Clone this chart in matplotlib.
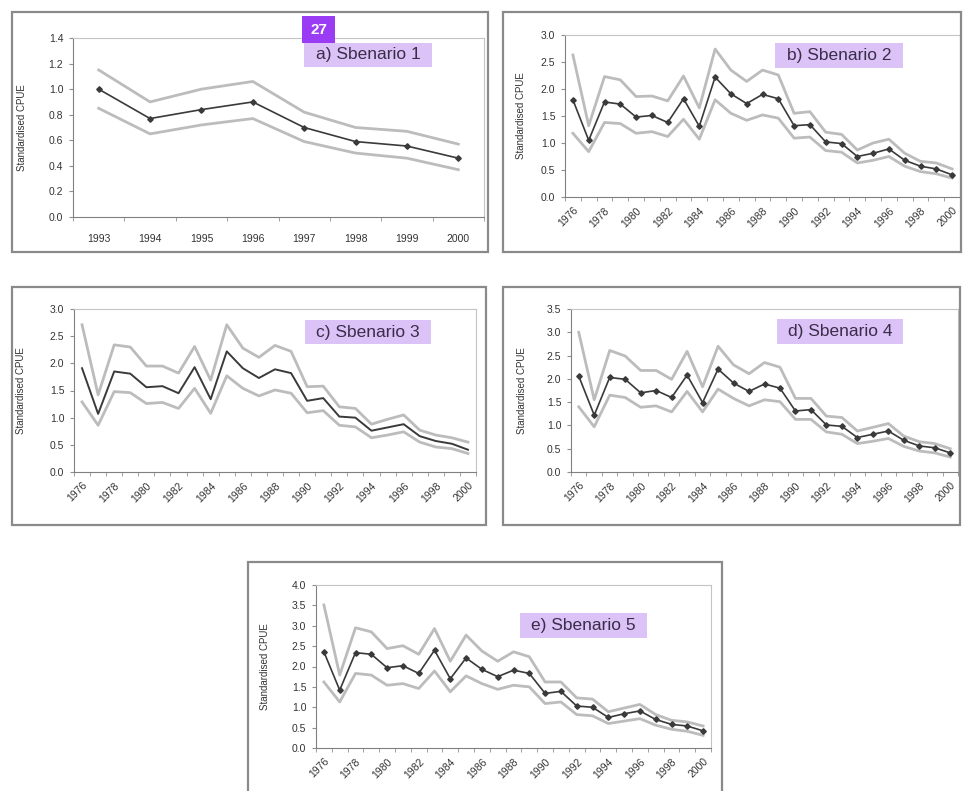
import numpy as np
import matplotlib.pyplot as plt
from matplotlib.patches import Rectangle

# Datos
years_a = ['1993', '1994', '1995', '1996', '1997', '1998', '1999', '2000']
mid_a = [1.00, 0.77, 0.84, 0.90, 0.70, 0.59, 0.555, 0.46]
up_a = [1.15, 0.90, 1.00, 1.06, 0.82, 0.70, 0.67, 0.57]
lo_a = [0.85, 0.65, 0.72, 0.77, 0.59, 0.50, 0.46, 0.37]

years_long = [str(y) for y in range(1976, 2001)]

mid_b = [1.80, 1.05, 1.76, 1.72, 1.48, 1.51, 1.38, 1.82, 1.31, 2.22, 1.91, 1.73, 1.90,
         1.82, 1.32, 1.34, 1.02, 0.99, 0.75, 0.81, 0.89, 0.68, 0.57, 0.52, 0.41]
up_b = [2.63, 1.32, 2.23, 2.17, 1.86, 1.87, 1.78, 2.24, 1.65, 2.74, 2.35, 2.14, 2.35,
        2.26, 1.55, 1.58, 1.20, 1.16, 0.87, 1.00, 1.07, 0.81, 0.66, 0.63, 0.52]
lo_b = [1.18, 0.84, 1.38, 1.36, 1.18, 1.21, 1.12, 1.44, 1.07, 1.80, 1.55, 1.42, 1.52,
        1.46, 1.09, 1.11, 0.86, 0.83, 0.63, 0.68, 0.75, 0.57, 0.47, 0.43, 0.35]

mid_c = [1.91, 1.07, 1.85, 1.81, 1.56, 1.58, 1.45, 1.93, 1.34, 2.22, 1.91, 1.73, 1.89,
         1.82, 1.31, 1.36, 1.02, 1.00, 0.76, 0.82, 0.88, 0.66, 0.57, 0.52, 0.41]
up_c = [2.71, 1.42, 2.34, 2.30, 1.95, 1.95, 1.82, 2.31, 1.69, 2.71, 2.28, 2.11, 2.33,
        2.22, 1.57, 1.58, 1.20, 1.17, 0.88, 0.97, 1.05, 0.77, 0.68, 0.63, 0.55]
lo_c = [1.29, 0.86, 1.48, 1.46, 1.26, 1.28, 1.17, 1.54, 1.08, 1.77, 1.54, 1.40, 1.51,
        1.45, 1.09, 1.13, 0.86, 0.83, 0.63, 0.68, 0.74, 0.55, 0.46, 0.43, 0.34]

mid_d = [2.06, 1.22, 2.03, 1.99, 1.70, 1.75, 1.60, 2.08, 1.49, 2.21, 1.91, 1.73, 1.89,
         1.80, 1.31, 1.34, 1.01, 0.98, 0.74, 0.81, 0.88, 0.68, 0.56, 0.52, 0.41]
up_d = [3.00, 1.55, 2.61, 2.49, 2.18, 2.18, 1.99, 2.59, 1.83, 2.70, 2.30, 2.11, 2.35,
        2.25, 1.58, 1.58, 1.20, 1.17, 0.88, 0.96, 1.04, 0.77, 0.65, 0.61, 0.50]
lo_d = [1.40, 0.97, 1.65, 1.60, 1.39, 1.42, 1.29, 1.73, 1.29, 1.78, 1.58, 1.42, 1.55,
        1.51, 1.13, 1.13, 0.86, 0.81, 0.61, 0.66, 0.72, 0.55, 0.45, 0.41, 0.32]

mid_e = [2.36, 1.42, 2.34, 2.30, 1.97, 2.02, 1.83, 2.40, 1.70, 2.21, 1.93, 1.75, 1.91,
         1.83, 1.34, 1.39, 1.03, 1.00, 0.75, 0.84, 0.91, 0.70, 0.58, 0.54, 0.42]
up_e = [3.51, 1.79, 2.95, 2.85, 2.44, 2.51, 2.30, 2.93, 2.13, 2.77, 2.38, 2.13, 2.36,
        2.24, 1.62, 1.62, 1.23, 1.20, 0.89, 0.98, 1.07, 0.82, 0.68, 0.64, 0.54]
lo_e = [1.62, 1.13, 1.83, 1.79, 1.54, 1.58, 1.46, 1.89, 1.38, 1.77, 1.58, 1.44, 1.54,
        1.50, 1.09, 1.13, 0.82, 0.79, 0.60, 0.66, 0.72, 0.56, 0.46, 0.41, 0.31]

titles = ['a) Sbenario 1', 'b) Sbenario 2', 'c) Sbenario 3', 'd) Sbenario 4', 'e) Sbenario 5']

W, H = 963, 791
plt.rcParams['font.family'] = ['Liberation Sans', 'DejaVu Sans']

fig = plt.figure(figsize=(W / 100, H / 100), dpi=100)


def fx(x):
    return x / W


def fy(y):
    return 1 - y / H


def frame(x0, y0, x1, y1):
    """Marco gris de cada grafico (coordenadas en pixeles)"""
    fig.patches.append(Rectangle((fx(x0), fy(y1)), fx(x1 - x0), (y1 - y0) / H,
                                 transform=fig.transFigure, fill=False,
                                 edgecolor='#8a8a8a', linewidth=1.6))


def label_box(text, x0, y0, x1, y1):
    fig.patches.append(Rectangle((fx(x0), fy(y1)), fx(x1 - x0), (y1 - y0) / H,
                                 transform=fig.transFigure, facecolor='#dcc3f7',
                                 edgecolor='none', zorder=5))
    fig.text(fx((x0 + x1) / 2), fy((y0 + y1) / 2), text, ha='center', va='center',
             fontsize=12.5, color='#3a2d4a', zorder=6)


def panel(box, ylim, step, cats, up, mid, lo, ylab_x, markers=True, rotate=True):
    l, t, r, b = box
    ax = fig.add_axes([fx(l), fy(b), fx(r - l), (b - t) / H])
    x = np.arange(len(cats))
    ax.plot(x, up, color='#bcbcbc', linewidth=2.0, solid_joinstyle='round')
    ax.plot(x, lo, color='#bcbcbc', linewidth=2.0, solid_joinstyle='round')
    if markers:
        ax.plot(x, mid, color='#3a3a3a', linewidth=1.2, marker='D', markersize=2.8)
    else:
        ax.plot(x, mid, color='#3a3a3a', linewidth=1.4)
    ax.set_xlim(-0.5, len(cats) - 0.5)
    ax.set_ylim(0, ylim)
    ax.set_yticks(np.arange(0, ylim + 0.001, step))
    ax.set_yticklabels([f'{v:.1f}' for v in np.arange(0, ylim + 0.001, step)])
    ax.tick_params(axis='y', labelsize=7.5, length=3, color='#909090',
                   labelcolor='#333333', pad=4)
    if rotate:
        ax.set_xticks(x[::2])
        ax.set_xticklabels(cats[::2], rotation=45, ha='right', rotation_mode='anchor')
    else:
        ax.set_xticks(x)
        ax.set_xticklabels(cats)
    ax.set_xticks(np.arange(-0.5, len(cats)), minor=True)
    ax.tick_params(axis='x', which='major', length=0, labelsize=7.5,
                   labelcolor='#333333', pad=12 if not rotate else 6)
    ax.tick_params(axis='x', which='minor', length=3, color='#909090')
    for s in ['left', 'bottom']:
        ax.spines[s].set_color('#808080')
    for s in ['top', 'right']:
        ax.spines[s].set_color('#c4c4c4')
    fig.text(fx(ylab_x), fy((t + b) / 2), 'Standardised CPUE', rotation=90,
             ha='center', va='center', fontsize=7, color='#333333')
    return ax


# a) Escenario 1
frame(12, 12, 488, 252)
panel((73, 38, 484, 217), 1.4, 0.2, years_a, up_a, mid_a, lo_a, 22, rotate=False)
label_box(titles[0], 304, 43, 432, 67)
fig.patches.append(Rectangle((fx(302), fy(43)), fx(33), 27 / H, transform=fig.transFigure,
                             facecolor='#9b3cf5', edgecolor='none', zorder=7))
fig.text(fx(318.5), fy(30), '27', ha='center', va='center', fontsize=11,
         color='white', fontweight='bold', zorder=8)

# b) Escenario 2
frame(503, 12, 961, 252)
panel((565, 35, 960, 197), 3.0, 0.5, years_long, up_b, mid_b, lo_b, 521)
label_box(titles[1], 775, 43, 903, 68)

# c) Escenario 3
frame(12, 287, 486, 525)
panel((74, 309, 476, 472), 3.0, 0.5, years_long, up_c, mid_c, lo_c, 21, markers=False)
label_box(titles[2], 305, 320, 431, 344)

# d) Escenario 4
frame(503, 287, 960, 525)
panel((571, 309, 958, 472), 3.5, 0.5, years_long, up_d, mid_d, lo_d, 522)
label_box(titles[3], 777, 319, 903, 344)

# e) Escenario 5
frame(248, 562, 722, 800)
panel((316, 585, 711, 748), 4.0, 0.5, years_long, up_e, mid_e, lo_e, 265)
label_box(titles[4], 520, 613, 647, 638)

fig.savefig('out.png', dpi=100)
plt.close(fig)
